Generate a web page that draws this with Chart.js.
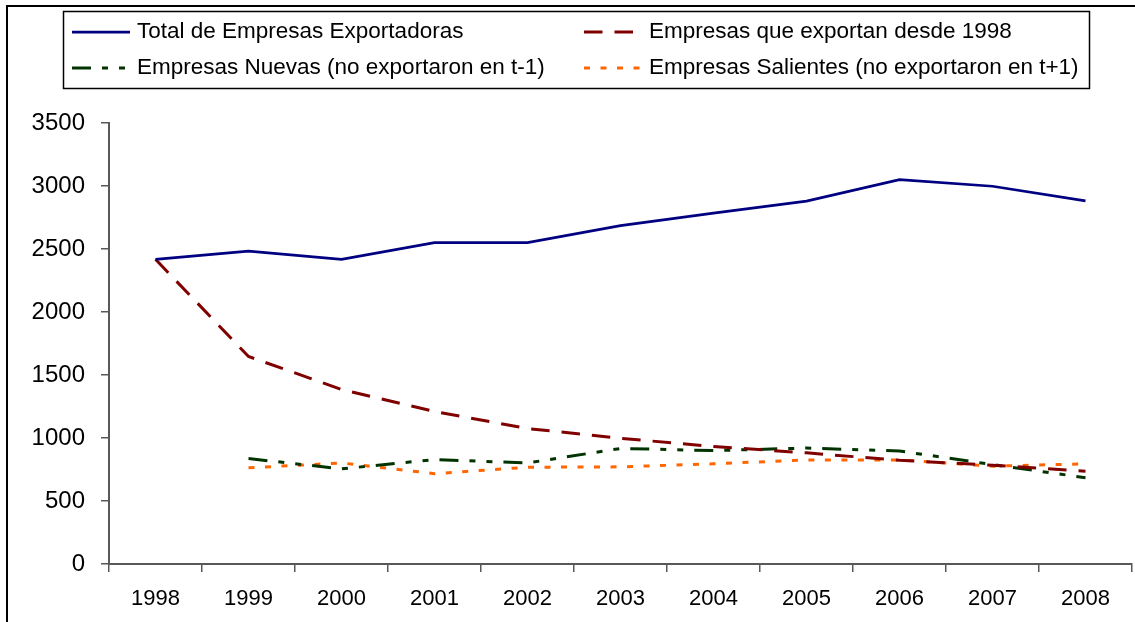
<!DOCTYPE html>
<html>
<head>
<meta charset="utf-8">
<script src="https://cdn.jsdelivr.net/npm/chart.js@4"></script>
<style>
  html, body { margin: 0; padding: 0; background: #fff; }
  #wrap { width: 1135px; height: 622px; position: relative; }
</style>
</head>
<body>
<div id="wrap"><canvas id="chart" width="1135" height="622"></canvas></div>
<script>
const years = ['1998', '1999', '2000', '2001', '2002', '2003', '2004', '2005', '2006', '2007', '2008'];
const totalEmpresas = [2418, 2484, 2418, 2550, 2550, 2685, 2785, 2880, 3050, 2998, 2882];
const desde1998 = [2418, 1647, 1385, 1210, 1075, 998, 932, 882, 823, 784, 736];
const nuevas = [null, 837, 755, 829, 802, 917, 900, 920, 897, 789, 685];
const salientes = [null, 763, 802, 717, 768, 771, 795, 826, 826, 776, 795];
const yTicks = [0, 500, 1000, 1500, 2000, 2500, 3000, 3500];

const fontFamily = '"Liberation Sans", Arial, sans-serif';
const axisColor = '#595959';

// frame and two-column legend drawn on the canvas
const frameLegend = {
    id: 'frameLegend',
    afterDraw(chart) {
        const ctx = chart.ctx;
        ctx.save();
        ctx.strokeStyle = '#000';
        ctx.lineWidth = 2;
        ctx.beginPath();
        ctx.moveTo(7, 622);
        ctx.lineTo(7, 6);
        ctx.lineTo(1135, 6);
        ctx.stroke();

        ctx.lineWidth = 1.5;
        ctx.strokeRect(63.5, 11.5, 1026, 77);

        const cols = [72, 584];
        const rows = [32, 68];
        ctx.font = '22.5px ' + fontFamily;
        ctx.textBaseline = 'middle';
        ctx.fillStyle = '#000';
        chart.data.datasets.forEach((ds, k) => {
            const x = cols[k % 2];
            const y = rows[Math.floor(k / 2)];
            ctx.strokeStyle = ds.borderColor;
            ctx.lineWidth = ds.borderWidth;
            ctx.setLineDash(ds.borderDash || []);
            ctx.beginPath();
            ctx.moveTo(x, y);
            ctx.lineTo(x + 58, y);
            ctx.stroke();
            ctx.setLineDash([]);
            ctx.fillText(ds.label, x + 65, y);
        });
        ctx.restore();
    }
};

new Chart(document.getElementById('chart'), {
    type: 'line',
    data: {
        labels: years,
        datasets: [
            {
                label: 'Total de Empresas Exportadoras',
                data: totalEmpresas,
                borderColor: '#000080',
                borderWidth: 2.75,
                borderDash: []
            },
            {
                label: 'Empresas que exportan desde 1998',
                data: desde1998,
                borderColor: '#800000',
                borderWidth: 3,
                borderDash: [18.5, 12]
            },
            {
                label: 'Empresas Nuevas (no exportaron en t-1)',
                data: nuevas,
                borderColor: '#003300',
                borderWidth: 3,
                borderDash: [19, 11, 6, 11, 6, 11]
            },
            {
                label: 'Empresas Salientes (no exportaron en t+1)',
                data: salientes,
                borderColor: '#FF6600',
                borderWidth: 3,
                borderDash: [6, 10.5]
            }
        ]
    },
    options: {
        responsive: false,
        animation: false,
        events: [],
        layout: { padding: { left: 0, right: 3, top: 123, bottom: 0 } },
        elements: {
            point: { radius: 0 },
            line: { tension: 0, borderCapStyle: 'butt', fill: false }
        },
        plugins: {
            legend: { display: false },
            tooltip: { enabled: false }
        },
        scales: {
            x: {
                offset: true,
                grid: {
                    offset: true,
                    drawOnChartArea: false,
                    drawTicks: true,
                    tickLength: 8,
                    color: axisColor,
                    lineWidth: 1.5
                },
                border: { display: true, color: axisColor, width: 2 },
                ticks: {
                    color: '#000',
                    font: { family: fontFamily, size: 22 },
                    padding: 14,
                    maxRotation: 0
                },
                afterFit(scale) { scale.height = 58; }
            },
            y: {
                min: 0,
                max: 3500,
                afterBuildTicks(scale) { scale.ticks = yTicks.map(v => ({ value: v })); },
                grid: {
                    drawOnChartArea: false,
                    drawTicks: true,
                    tickLength: 8,
                    color: axisColor,
                    lineWidth: 1.5
                },
                border: { display: true, color: axisColor, width: 2 },
                ticks: {
                    color: '#000',
                    font: { family: fontFamily, size: 24 },
                    padding: 16,
                    callback: v => String(v)
                },
                afterFit(scale) { scale.width = 109; }
            }
        }
    },
    plugins: [frameLegend]
});
</script>
</body>
</html>
